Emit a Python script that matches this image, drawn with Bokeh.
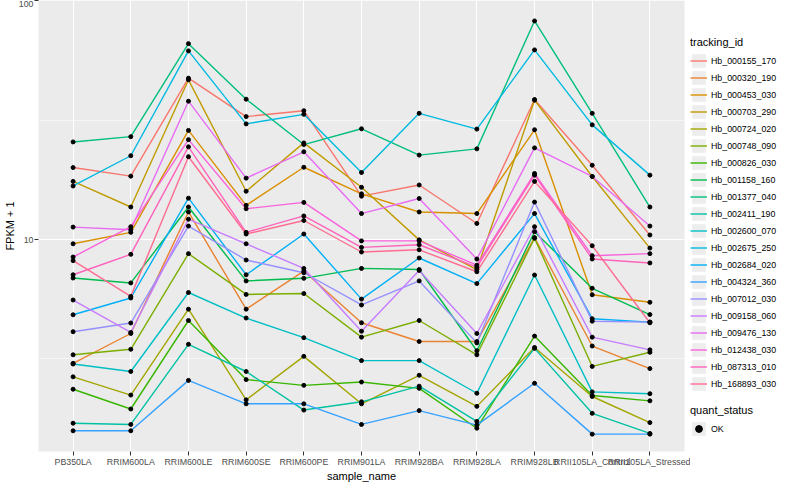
from bokeh.plotting import figure
from bokeh.layouts import row
from bokeh.models import (FactorRange, Range1d, FixedTicker, Legend, LegendItem,
                          PrintfTickFormatter)
from bokeh.embed import file_html
from bokeh.resources import INLINE

samples = ["PB350LA", "RRIM600LA", "RRIM600LE", "RRIM600SE", "RRIM600PE",
           "RRIM901LA", "RRIM928BA", "RRIM928LA", "RRIM928LB",
           "RRII105LA_Control", "RRII105LA_Stressed"]

tracking_ids = ["Hb_000155_170", "Hb_000320_190", "Hb_000453_030", "Hb_000703_290",
                "Hb_000724_020", "Hb_000748_090", "Hb_000826_030", "Hb_001158_160",
                "Hb_001377_040", "Hb_002411_190", "Hb_002600_070", "Hb_002675_250",
                "Hb_002684_020", "Hb_004324_360", "Hb_007012_030", "Hb_009158_060",
                "Hb_009476_130", "Hb_012438_030", "Hb_087313_010", "Hb_168893_030"]

# FPKM + 1 per gene, in the order of `samples`
Hb_000155_170 = [20.03, 18.44, 47.46, 32.75, 34.67, 15.20, 16.93, 11.68, 38.62, 20.48, 10.45]
Hb_000320_190 = [3.03, 4.04, 13.05, 5.11, 7.38, 4.48, 3.74, 3.74, 10.19, 3.58, 2.88]
Hb_000453_030 = [9.60, 10.72, 28.67, 13.91, 20.09, 15.54, 13.05, 12.85, 28.84, 5.87, 5.46]
Hb_000703_290 = [17.53, 13.69, 46.71, 15.94, 25.41, 16.56, 9.97, 7.49, 38.37, 18.38, 9.21]
Hb_000724_020 = [2.66, 2.23, 5.11, 2.13, 3.24, 2.05, 2.70, 2.00, 3.53, 2.20, 1.71]
Hb_000748_090 = [3.29, 3.47, 8.73, 5.89, 5.94, 3.90, 4.58, 3.29, 10.13, 2.94, 3.37]
Hb_000826_030 = [2.36, 1.95, 4.58, 2.59, 2.45, 2.53, 2.38, 1.62, 3.94, 2.22, 2.11]
Hb_001158_160 = [6.90, 6.58, 13.69, 6.71, 6.88, 7.57, 7.49, 3.42, 10.79, 6.25, 4.85]
Hb_001377_040 = [25.65, 26.99, 66.22, 38.74, 25.01, 29.12, 22.59, 23.99, 82.41, 33.80, 13.69]
Hb_002411_190 = [1.70, 1.68, 3.64, 2.80, 1.93, 2.09, 2.43, 1.73, 3.50, 1.87, 1.54]
Hb_002600_070 = [3.01, 2.80, 6.00, 4.69, 3.88, 3.11, 3.11, 2.27, 7.10, 2.30, 2.26]
Hb_002675_250 = [16.77, 22.45, 61.75, 30.53, 33.48, 19.10, 33.80, 29.03, 62.34, 30.24, 18.62]
Hb_002684_020 = [4.84, 5.69, 14.91, 7.12, 10.55, 5.63, 8.37, 6.54, 12.85, 4.66, 4.51]
Hb_004324_360 = [1.58, 1.58, 2.57, 2.05, 2.05, 1.68, 1.92, 1.67, 2.50, 1.53, 1.53]
Hb_007012_030 = [4.11, 4.47, 11.39, 8.21, 7.26, 5.32, 6.71, 3.69, 14.36, 4.55, 4.51]
Hb_009158_060 = [5.58, 4.08, 12.17, 9.60, 7.57, 4.13, 7.42, 4.04, 11.32, 3.90, 3.45]
Hb_009476_130 = [11.28, 11.00, 38.01, 18.09, 23.32, 12.85, 14.86, 8.29, 24.22, 18.38, 11.39]
Hb_012438_030 = [8.45, 11.32, 26.22, 13.47, 14.31, 9.87, 9.87, 7.81, 18.92, 8.56, 8.73]
Hb_087313_010 = [7.12, 8.67, 24.46, 10.72, 12.56, 9.27, 9.51, 7.66, 18.62, 8.29, 7.98]
Hb_168893_030 = [8.16, 5.78, 22.24, 10.55, 12.02, 8.87, 9.06, 7.33, 17.53, 9.42, 4.48]

series = [Hb_000155_170, Hb_000320_190, Hb_000453_030, Hb_000703_290, Hb_000724_020,
          Hb_000748_090, Hb_000826_030, Hb_001158_160, Hb_001377_040, Hb_002411_190,
          Hb_002600_070, Hb_002675_250, Hb_002684_020, Hb_004324_360, Hb_007012_030,
          Hb_009158_060, Hb_009476_130, Hb_012438_030, Hb_087313_010, Hb_168893_030]

quant_status = ["OK"]

colors = ["#F8766D", "#EA8331", "#D89000", "#C09B00", "#A3A500", "#7CAE00", "#39B600",
          "#00BB4E", "#00BF7D", "#00C1A3", "#00BFC4", "#00BAE0", "#00B0F6", "#35A2FF",
          "#9590FF", "#C77CFF", "#E76BF3", "#FA62DB", "#FF62BC", "#FF6C91"]

FONT = "Liberation Sans"
H = 484
NAN = float("nan")

p = figure(x_range=FactorRange(*samples, range_padding=0.1, range_padding_units="absolute"),
           y_axis_type="log", y_range=Range1d(1.294, 100.4),
           width=690, height=H,
           min_border_left=32, min_border_right=6, min_border_top=0, min_border_bottom=0,
           output_backend="svg", toolbar_location=None,
           background_fill_color="#EBEBEB", border_fill_color="white",
           outline_line_color=None)

# grid
p.xgrid.grid_line_color = "white"
p.xgrid.grid_line_width = 1.1
yticker = FixedTicker(ticks=[10, 100], minor_ticks=[3.1623, 31.623])
p.yaxis.ticker = yticker
p.ygrid.ticker = yticker
p.ygrid.grid_line_color = "white"
p.ygrid.grid_line_width = 1.1
p.ygrid.minor_grid_line_color = "white"
p.ygrid.minor_grid_line_width = 0.55

p.yaxis.formatter = PrintfTickFormatter(format="%d")

for ax in (p.xaxis, p.yaxis):
    ax.axis_line_color = None
    ax.major_tick_line_color = "#333333"
    ax.major_tick_in = 0
    ax.major_tick_out = 4
    ax.minor_tick_line_color = None
    ax.major_label_text_font = FONT
    ax.major_label_text_font_size = "8.8px"
    ax.major_label_text_color = "#4D4D4D"
    ax.major_label_text_line_height = 1.0
    ax.major_label_standoff = 1
    ax.axis_label_text_font = FONT
    ax.axis_label_text_font_size = "11px"
    ax.axis_label_text_font_style = "normal"
    ax.axis_label_text_color = "black"
    ax.axis_label_text_line_height = 1.0
    ax.axis_label_standoff = 0

p.xaxis.axis_label = "sample_name"
p.yaxis.axis_label = "FPKM + 1"

for vals, col in zip(series, colors):
    p.line(x=samples, y=vals, line_color=col, line_width=1.4)

for vals in series:
    p.scatter(x=samples, y=vals, size=4, marker="circle",
              fill_color="black", line_color="black")

# ---- legend panel (separate figure to the right) ----
lg = figure(width=94, height=H, min_border=0, output_backend="svg",
            toolbar_location=None, x_axis_location=None, y_axis_location=None,
            outline_line_color=None, background_fill_color="white",
            border_fill_color="white", x_range=Range1d(0, 1), y_range=Range1d(0, 1))
lg.grid.visible = False

# legend-only renderers (NaN data: nothing drawn in the panel itself)
keybg = lg.quad(left=[NAN], right=[NAN], top=[NAN], bottom=[NAN],
                fill_color="#EDEDED", line_color=None)
items = []
for tid, col in zip(tracking_ids, colors):
    r = lg.line(x=[NAN], y=[NAN], line_color=col, line_width=1.4)
    items.append(LegendItem(label=tid, renderers=[keybg, r]))
ok_r = lg.scatter(x=[NAN], y=[NAN], size=4, marker="circle",
                  fill_color="black", line_color="black")

common = dict(title_text_font=FONT, title_text_font_size="11px",
              title_text_font_style="normal", title_text_color="black",
              title_standoff=4,
              label_text_font=FONT, label_text_font_size="8.8px", label_text_color="black",
              glyph_width=17, glyph_height=17, label_height=17, label_standoff=4,
              spacing=0, padding=0, margin=0, border_line_color=None,
              background_fill_alpha=0)

leg1 = Legend(items=items, title="tracking_id", location=(0, 59), **common)
leg2 = Legend(items=[LegendItem(label=quant_status[0], renderers=[keybg, ok_r])],
              title="quant_status", location=(0, 14), **common)
lg.add_layout(leg1)
lg.add_layout(leg2)

layout = row(p, lg, spacing=0)
open("out.html", "w").write(file_html(layout, INLINE))
